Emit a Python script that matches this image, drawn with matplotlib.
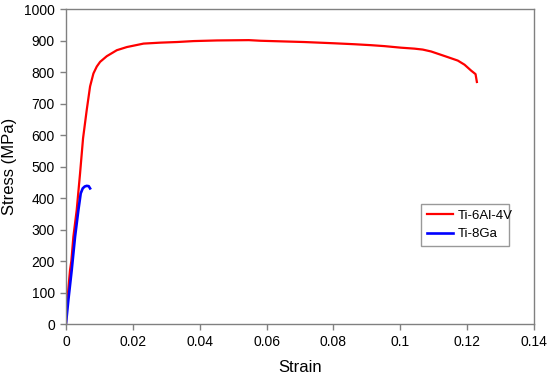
import matplotlib
matplotlib.use("Agg")
import matplotlib.pyplot as plt

plt.rcParams['font.family'] = ['Liberation Sans', 'DejaVu Sans']

# Ti-6Al-4V (red)
ti64_strain = [0.0, 0.0002, 0.0006, 0.0012, 0.0016, 0.0022, 0.0032, 0.0042, 0.0051,
               0.0062, 0.0072, 0.0082, 0.0092, 0.0102, 0.0122, 0.0152, 0.0182, 0.0232,
               0.0282, 0.0332, 0.0382, 0.0452, 0.0547, 0.0582, 0.0712, 0.0802, 0.0862,
               0.0912, 0.0952, 0.1002, 0.1042, 0.1067, 0.1092, 0.1117, 0.1142, 0.1172, 0.1192,
               0.1212, 0.1225, 0.1229]
ti64_stress = [0, 66, 100, 171, 200, 277, 362, 478, 590,
               680, 755, 796, 818, 833, 851, 870, 880, 891,
               894, 896, 899, 901, 902, 900, 896, 892, 889,
               886, 883, 878, 875, 872, 866, 857, 848, 837, 824,
               805, 794, 769]

# Ti-8Ga (blue)
ti8ga_strain = [0.0, 0.0007, 0.0017, 0.0027, 0.0037, 0.0044, 0.0050, 0.0056, 0.0062, 0.0068, 0.0072]
ti8ga_stress = [2, 76, 171, 277, 362, 415, 431, 437, 439, 438, 431]

x_ticks = [0, 0.02, 0.04, 0.06, 0.08, 0.1, 0.12, 0.14]
x_labels = ['0', '0.02', '0.04', '0.06', '0.08', '0.1', '0.12', '0.14']
y_ticks = list(range(0, 1001, 100))

fig = plt.figure(figsize=(5.5, 3.79), dpi=100)
ax = fig.add_axes([0.12, 0.145, 0.851, 0.8305])

ax.plot(ti64_strain, ti64_stress, color='#ff0000', lw=1.6, label='Ti-6Al-4V')
ax.plot(ti8ga_strain, ti8ga_stress, color='#0000ff', lw=1.9, label='Ti-8Ga')

ax.set_xlim(0, 0.14)
ax.set_ylim(0, 1000)
ax.set_xticks(x_ticks)
ax.set_xticklabels(x_labels)
ax.set_yticks(y_ticks)

for s in ax.spines.values():
    s.set_color('#808080')
    s.set_linewidth(1.0)
ax.tick_params(direction='out', length=4, width=1, color='#808080', labelsize=10, labelcolor='black', pad=4)

ax.set_xlabel('Strain', fontsize=12, labelpad=8)
ax.set_ylabel('Stress (MPa)', fontsize=12, labelpad=5)

leg = ax.legend(loc='lower left', bbox_to_anchor=(0.7585, 0.2476, 0.188, 0.1334), mode='expand',
                fontsize=9.5, frameon=True, fancybox=False, borderaxespad=0,
                handlelength=2.0, handletextpad=0.3, borderpad=0.45, labelspacing=0.45)
leg.get_frame().set_edgecolor('#808080')
leg.get_frame().set_linewidth(1.0)

fig.savefig('out.png', dpi=100)
